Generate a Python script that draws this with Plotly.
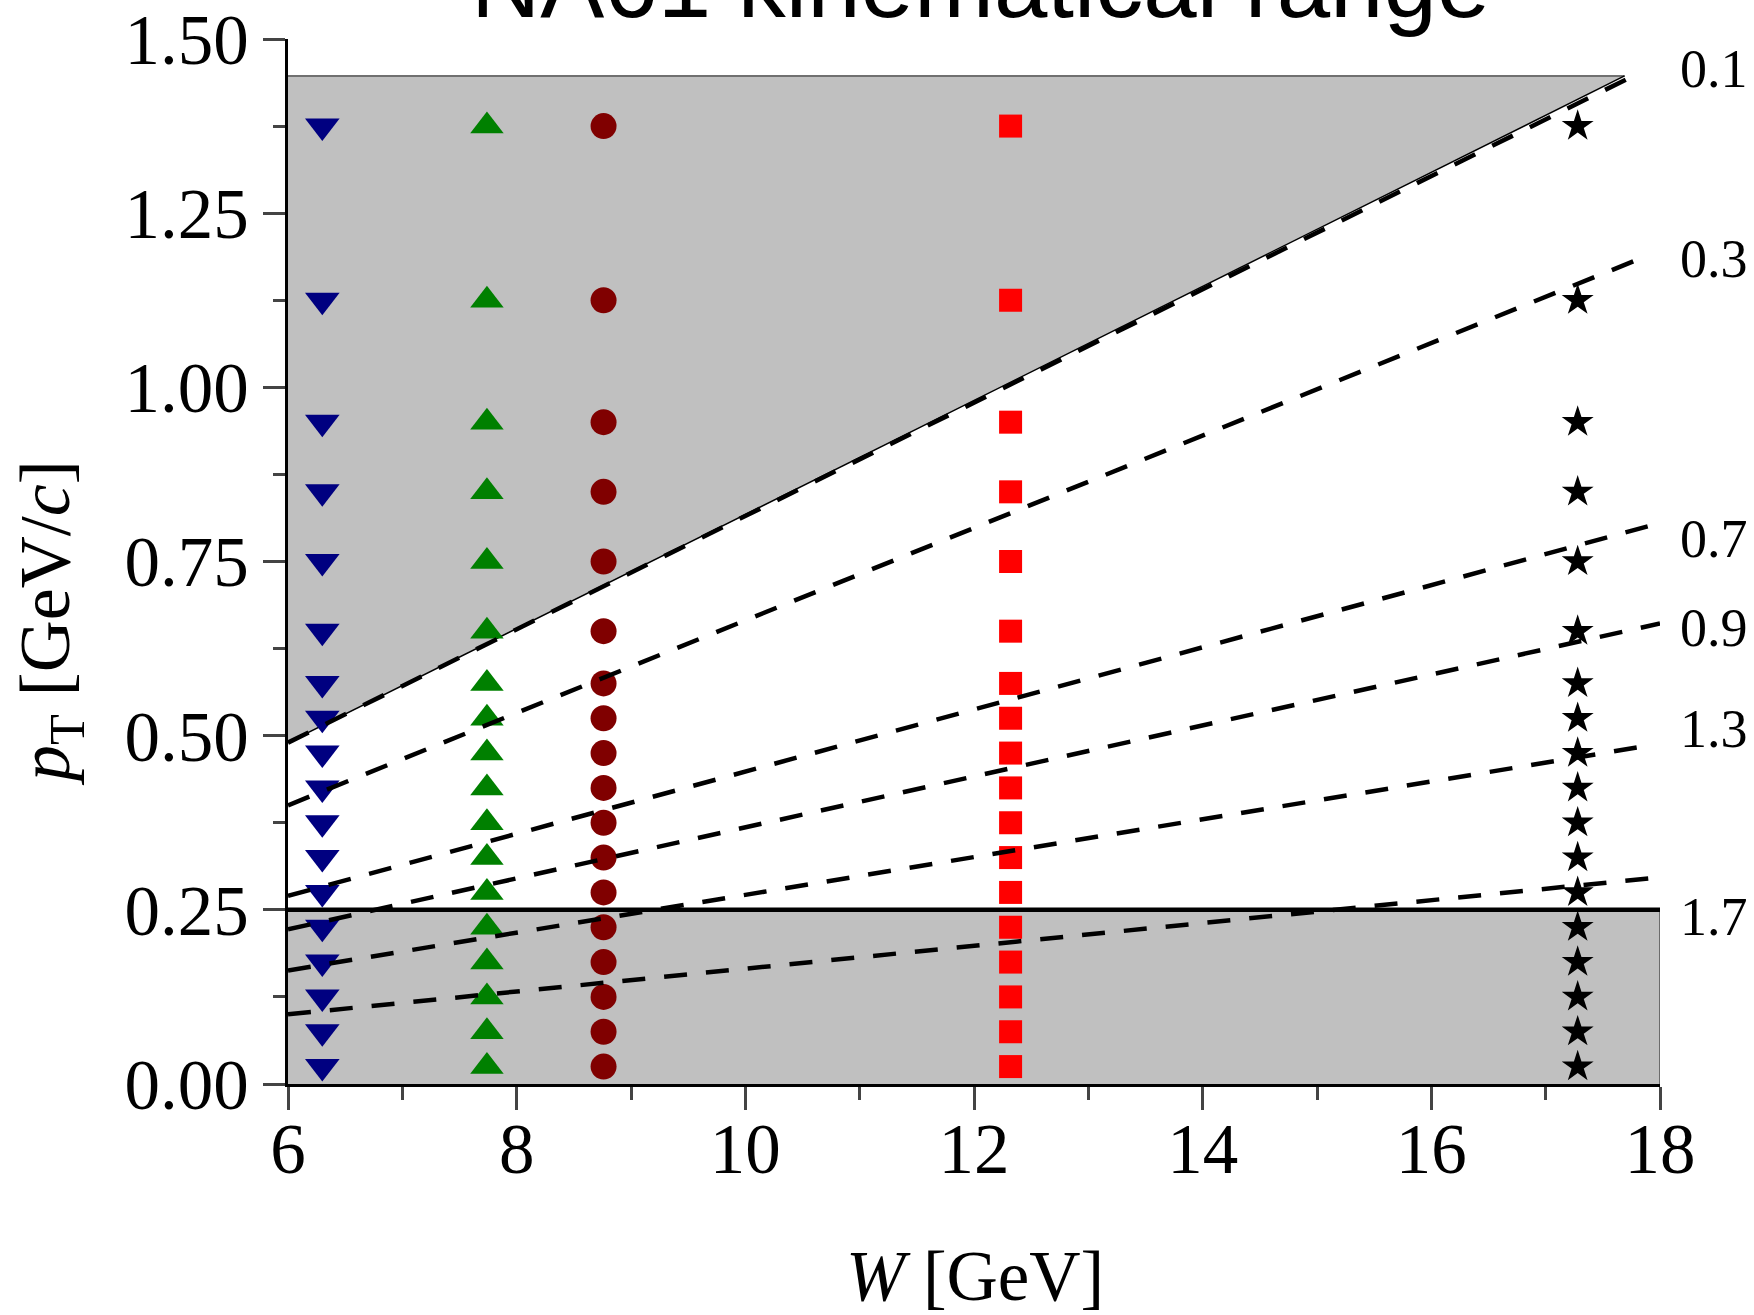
import plotly.graph_objects as go

# ---------------- data ----------------
pT_bins = [1.375, 1.125, 0.95, 0.85, 0.75, 0.65, 0.575, 0.525, 0.475, 0.425,
           0.375, 0.325, 0.275, 0.225, 0.175, 0.125, 0.075, 0.025]

W_20 = 6.3     # navy down-triangles
W_30 = 7.74    # green up-triangles
W_40 = 8.76    # dark red circles
W_80 = 12.32   # red squares
W_158 = 17.28  # black stars

line_labels = ["0.1", "0.3", "0.7", "0.9", "1.3", "1.7"]
line_W_start = [6.0, 6.0, 6.0, 6.0, 6.0, 6.0]
line_pT_start = [0.49, 0.40, 0.27, 0.222, 0.163, 0.100]
line_W_end = [17.84, 17.86, 17.95, 18.0, 17.8, 17.9]
line_pT_end = [1.453, 1.187, 0.803, 0.661, 0.483, 0.295]
label_W = 18.16
label_pT = [1.457, 1.184, 0.782, 0.655, 0.509, 0.240]

upper_W = [6.0, 6.0, 17.69]
upper_pT = [0.49, 1.447, 1.447]
lower_W = [6.0, 18.0, 18.0, 6.0]
lower_pT = [0.0, 0.0, 0.25, 0.25]
cut_pT = 0.25

x_range = [6, 18]
y_range = [0, 1.5]

# ---------------- figure ----------------
fig = go.Figure()
GRAY = "#c0c0c0"

fig.add_trace(go.Scatter(x=upper_W, y=upper_pT, fill="toself", fillcolor=GRAY,
                         mode="lines", line=dict(width=0), hoverinfo="skip"))
fig.add_trace(go.Scatter(x=lower_W, y=lower_pT, fill="toself", fillcolor=GRAY,
                         mode="lines", line=dict(width=0), hoverinfo="skip"))
# edges of the gray regions
fig.add_trace(go.Scatter(x=[upper_W[1], upper_W[2]], y=[upper_pT[1], upper_pT[2]],
                         mode="lines", line=dict(color="#707070", width=2), hoverinfo="skip"))
fig.add_trace(go.Scatter(x=[upper_W[0], upper_W[2]], y=[upper_pT[0], upper_pT[2]],
                         mode="lines", line=dict(color="black", width=1.5), hoverinfo="skip"))
fig.add_trace(go.Scatter(x=[lower_W[1], lower_W[2]], y=[lower_pT[1], lower_pT[2]],
                         mode="lines", line=dict(color="#505050", width=1.5), hoverinfo="skip"))

n = len(pT_bins)
markers = [
    (W_20, "triangle-down", "#000080", 30),
    (W_30, "triangle-up", "#008000", 29),
    (W_40, "circle", "#800000", 26),
    (W_80, "square", "#ff0000", 23),
    (W_158, "star", "#000000", 24),
]
for W, sym, col, sz in markers:
    fig.add_trace(go.Scatter(x=[W] * n, y=pT_bins, mode="markers", cliponaxis=False,
                             marker=dict(symbol=sym, color=col, size=sz, line=dict(width=0))))

for i in range(len(line_labels)):
    fig.add_trace(go.Scatter(x=[line_W_start[i], line_W_end[i]],
                             y=[line_pT_start[i], line_pT_end[i]],
                             mode="lines", cliponaxis=False,
                             line=dict(color="black", width=4.5, dash="23px,19px")))
    fig.add_annotation(x=1 + (label_W - x_range[1]) / (x_range[1] - x_range[0]),
                       y=label_pT[i] / y_range[1], xref="paper", yref="paper",
                       text=line_labels[i],
                       showarrow=False, xanchor="left", yanchor="middle",
                       font=dict(family="Liberation Serif", size=54, color="black"))

fig.add_trace(go.Scatter(x=[x_range[0], x_range[1]], y=[cut_pT, cut_pT], mode="lines",
                         cliponaxis=False, line=dict(color="black", width=4.5)))

# title (clipped at top)
fig.add_annotation(x=0.505, y=1 + (39 - 39.5) / 1045, xref="paper", yref="paper",
                   text="NA61 kinematical range", showarrow=False,
                   xanchor="center", yanchor="bottom",
                   font=dict(family="Liberation Sans", size=96, color="black"))
# axis titles
fig.add_annotation(x=(975 - 288) / 1372, y=(1084 - 1276) / 1045, xref="paper", yref="paper",
                   text="<i>W</i> [GeV]", showarrow=False, xanchor="center", yanchor="middle",
                   font=dict(family="Liberation Serif", size=71, color="black"))
fig.add_annotation(x=(50 - 288) / 1372, y=(1084 - 623) / 1045, xref="paper", yref="paper",
                   text="<i>p</i><sub>T</sub> [GeV/<i>c</i>]", showarrow=False, textangle=-90,
                   xanchor="center", yanchor="middle",
                   font=dict(family="Liberation Serif", size=72, color="black"))

axis_font = dict(family="Liberation Serif", size=71, color="black")
fig.update_xaxes(range=x_range, dtick=2, tick0=6, ticks="outside", ticklen=23, tickwidth=3,
                 showline=True, linecolor="black", linewidth=3, showgrid=False, zeroline=False,
                 tickfont=axis_font, ticklabelstandoff=-22,
                 minor=dict(dtick=1, tick0=6, ticks="outside", ticklen=13, tickwidth=3,
                            showgrid=False))
fig.update_yaxes(range=y_range, dtick=0.25, tick0=0, ticks="outside", ticklen=22, tickwidth=3,
                 tickformat=".2f", showline=True, linecolor="black", linewidth=3,
                 showgrid=False, zeroline=False, tickfont=axis_font,
                 minor=dict(dtick=0.125, tick0=0, ticks="outside", ticklen=12, tickwidth=3,
                            showgrid=False))

fig.update_layout(width=1754, height=1315, showlegend=False,
                  margin=dict(l=288, r=94, t=39, b=231, autoexpand=False),
                  plot_bgcolor="white", paper_bgcolor="white")

fig.write_html("out.html")
